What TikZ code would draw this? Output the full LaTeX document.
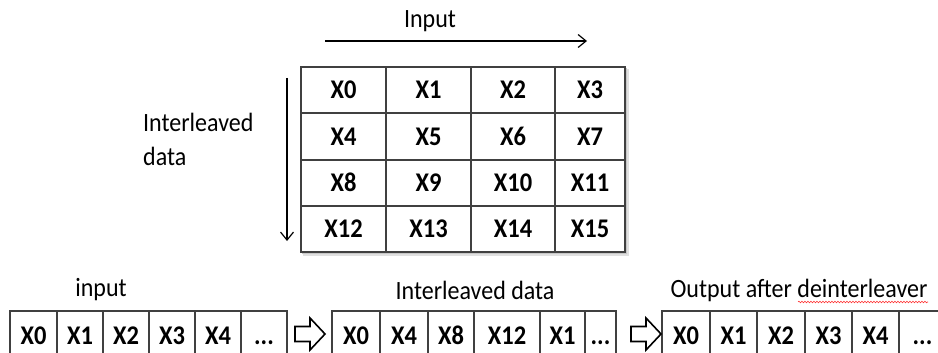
\documentclass[tikz,border=0pt]{standalone}
\usepackage{graphicx}
\usepackage{fontspec}
\setmainfont{Carlito}
\usetikzlibrary{arrows.meta,decorations.pathmorphing}
\newcommand{\tdots}{...}
\newcommand{\vs}[1]{\scalebox{1}[1.1]{#1}}
\begin{document}
\begin{tikzpicture}[x=1pt,y=-1pt,
  cell/.style={draw=black!75, line width=1.4pt, inner sep=0pt, outer sep=0pt,
    font=\fontsize{24.5}{28}\selectfont\bfseries, text=black, text height=17pt, text depth=-1pt},
  lbl/.style={inner sep=0pt, font=\fontsize{24}{34}\selectfont, text=black},
  flow/.style={line width=1.2pt, -{Straight Barb[length=8pt,width=13pt,line width=1.2pt]}},
  blockarrow/.style={draw=black, line width=1.6pt, fill=white, line join=miter}
]
\useasboundingbox (0,0) rectangle (938,353);
\clip (0,0) rectangle (938,353);

% labels
\node[lbl] (tin) at (430,21) {\vs{Input}};
\coordinate (ha) at (325,41);
\coordinate (hb) at (587,41);
\draw[flow] (ha) -- (hb);
\coordinate (va) at (287,78);
\coordinate (vb) at (287,241);
\draw[flow] (va) -- (vb);
\node[lbl, align=left, anchor=north west] (tid) at (143,113) {\vs{Interleaved}\\\vs{data}};

% shadow of grid
\fill[black!12] (303,69) rectangle (629,256);
\fill[black!22] (302,68) rectangle (627,254);

% grid
\foreach \y/\h [count=\r from 0] in {90/46,136.5/47,183/46,229/46}{
  \foreach \x/\w [count=\c from 0] in {343.5/85,428.5/85,513/84,590/70}{
    \pgfmathtruncatemacro{\k}{4*\r+\c}
    \node[cell, fill=white, minimum width=\w pt, minimum height=\h pt] (g\r\c) at (\x,\y) {\vs{X\k}};
  }
}

% bottom labels
\node[lbl] (tinput) at (101,290) {\vs{input}};
\node[lbl] (tinter) at (475,290) {\vs{Interleaved data}};
\node[lbl] (tout) at (799,290) {\vs{Output after deinterleaver}};
\coordinate (sqa) at (798,302);
\coordinate (sqb) at (928,302);
\draw[red!80, line width=0.6pt, decorate, decoration={snake, segment length=3pt, amplitude=0.8pt}] (sqa) -- (sqb);

% row 1
\foreach \x/\w/\t [count=\c] in {33.5/47/X0,80/46/X1,126/46/X2,172/46/X3,218/46/X4,264/46/\tdots}{
  \node[cell, minimum width=\w pt, minimum height=49pt] (a\c) at (\x,335.5) {\vs{\t}};
}
% row 2
\foreach \x/\w/\t [count=\c] in {356/48/X0,404/48/X4,451/46/X8,507/66/X12,562.5/45/X1,600.5/31/\tdots}{
  \node[cell, minimum width=\w pt, minimum height=49pt] (b\c) at (\x,335.5) {\vs{\t}};
}
% row 3
\foreach \x/\w/\t [count=\c] in {686/48/X0,733.5/47/X1,781/48/X2,828.5/47/X3,875.5/47/X4,922.5/47/\tdots}{
  \node[cell, minimum width=\w pt, minimum height=49pt] (c\c) at (\x,335.5) {\vs{\t}};
}

% block arrows
\coordinate (p1) at (295,334);
\coordinate (p2) at (631,334);
\foreach \p in {p1,p2}{
  \draw[blockarrow] ([yshift=7.5pt]\p) -- ++(15,0) -- ++(0,-8.5) -- ++(15,16) -- ++(-15,16) -- ++(0,-8.5) -- ++(-15,0) -- cycle;
}
\end{tikzpicture}
\end{document}
